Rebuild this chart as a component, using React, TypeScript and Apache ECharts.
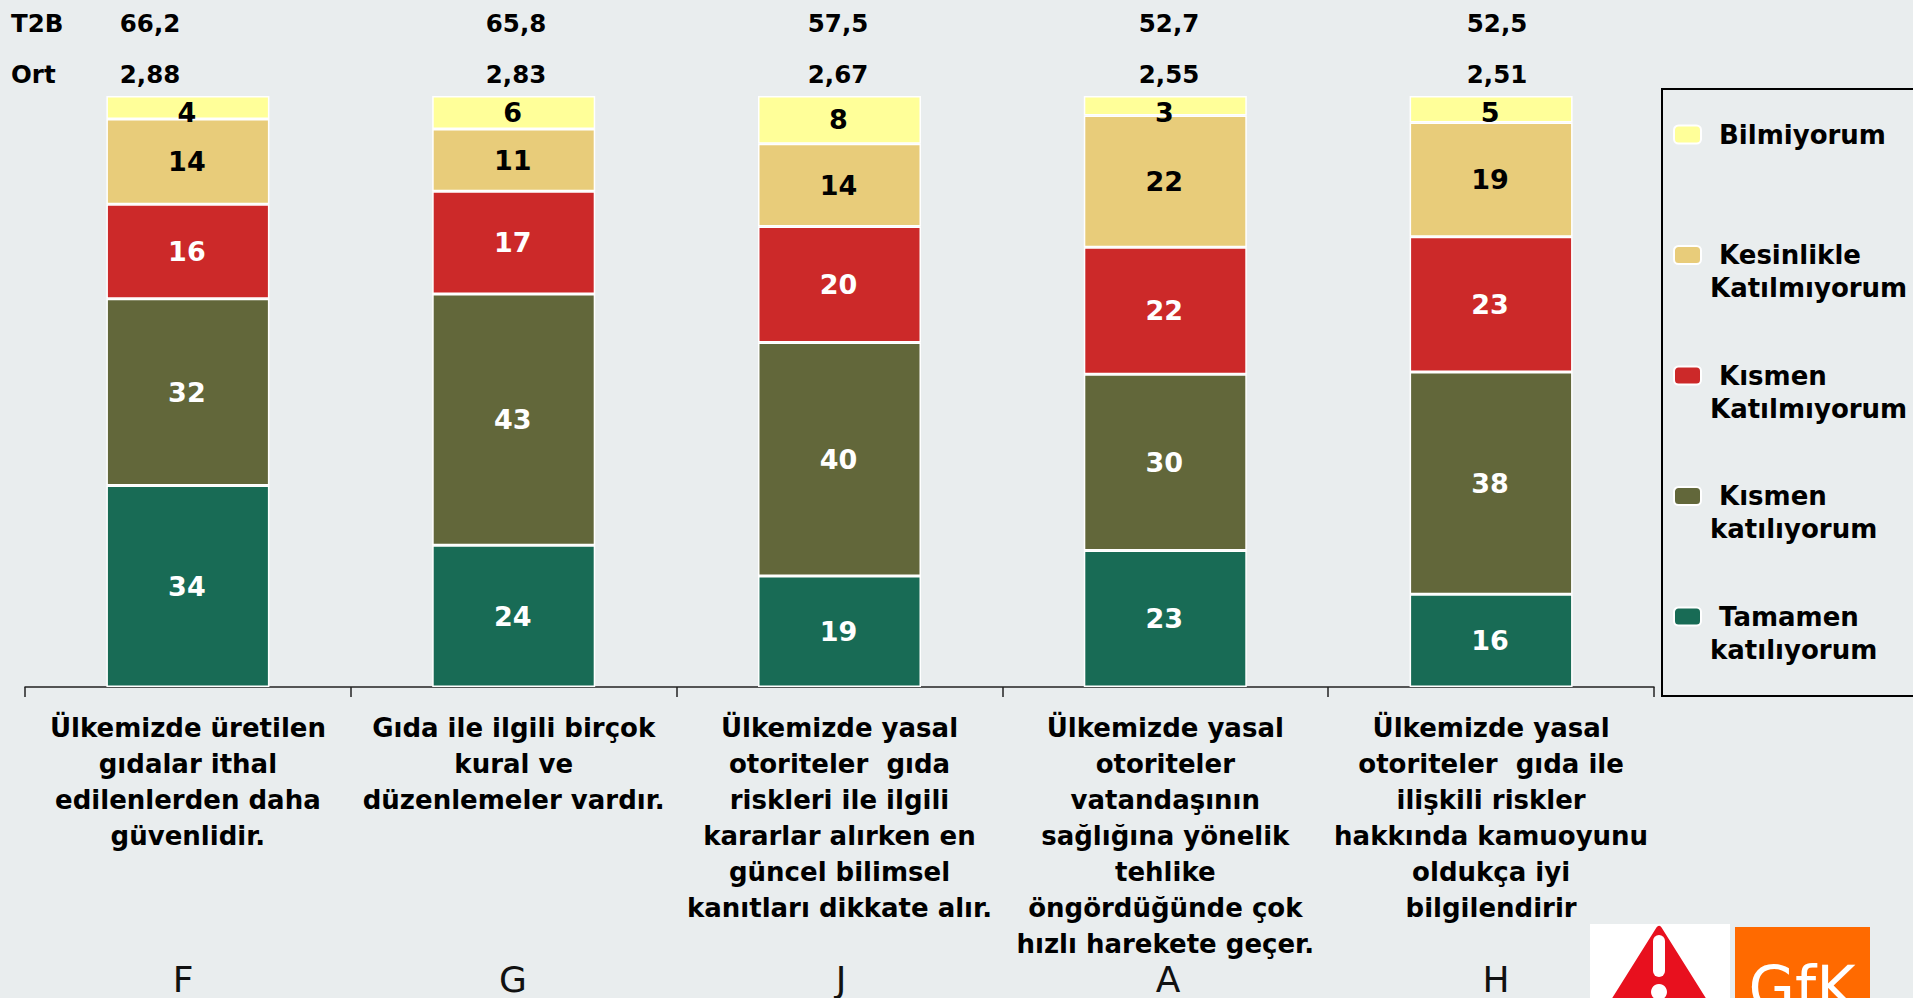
import React, { useEffect, useRef } from "react";
import * as echarts from "echarts";

const categories = [
  "Ülkemizde üretilen\ngıdalar ithal\nedilenlerden daha\ngüvenlidir.",
  "Gıda ile ilgili birçok\nkural ve\ndüzenlemeler vardır.",
  "Ülkemizde yasal\notoriteler  gıda\nriskleri ile ilgili\nkararlar alırken en\ngüncel bilimsel\nkanıtları dikkate alır.",
  "Ülkemizde yasal\notoriteler\nvatandaşının\nsağlığına yönelik\ntehlike\nöngördüğünde çok\nhızlı harekete geçer.",
  "Ülkemizde yasal\notoriteler  gıda ile\nilişkili riskler\nhakkında kamuoyunu\noldukça iyi\nbilgilendirir",
];
const letters = ["F", "G", "J", "A", "H"];
const t2b = ["66,2", "65,8", "57,5", "52,7", "52,5"];
const ort = ["2,88", "2,83", "2,67", "2,55", "2,51"];

const tamamen = [34.1, 24.0, 18.8, 23.1, 15.7];
const kismenKat = [31.6, 42.5, 39.5, 29.8, 37.6];
const kismenKatilmiyorum = [16.0, 17.4, 19.6, 21.5, 22.9];
const kesinlikle = [14.4, 10.5, 14.0, 22.3, 19.3];
const bilmiyorum = [3.9, 5.6, 8.1, 3.3, 4.5];

const seriesNames = ["Tamamen katılıyorum", "Kısmen katılıyorum", "Kısmen Katılmıyorum", "Kesinlikle Katılmıyorum", "Bilmiyorum"];
const legendOrder = ["Bilmiyorum", "Kesinlikle Katılmıyorum", "Kısmen Katılmıyorum", "Kısmen katılıyorum", "Tamamen katılıyorum"];
const legendText: Record<string, string> = {
  "Bilmiyorum": "\u00a0\n\u00a0Bilmiyorum\n\u00a0",
  "Kesinlikle Katılmıyorum": "\u00a0\n\u00a0Kesinlikle\nKatılmıyorum",
  "Kısmen Katılmıyorum": "\u00a0\n\u00a0Kısmen\nKatılmıyorum",
  "Kısmen katılıyorum": "\u00a0\n\u00a0Kısmen\nkatılıyorum",
  "Tamamen katılıyorum": "\u00a0\n\u00a0Tamamen\nkatılıyorum",
};

const FONT = "'DejaVu Sans', sans-serif";
const INK = "#000000";
const T2B_X = [150, 516, 838, 1169, 1497];
const LETTER_X = [183, 513, 841, 1168, 1496];
const YELLOW_LABEL_OFFSET = [5, 0, 0, 7, 3];

export default function App() {
  const ref = useRef<HTMLDivElement>(null);

  useEffect(() => {
    document.body.style.margin = "0";
    document.body.style.overflow = "hidden";
    const chart = echarts.init(ref.current!, null, { renderer: "svg" });

    const makeSeries = (name: string, data: number[], color: string, labelColor: string) => ({
      name,
      type: "bar" as const,
      stack: "total",
      barWidth: 163,
      data: data.map((value, i) => ({
        value,
        label: name === "Bilmiyorum" ? { offset: [-1, YELLOW_LABEL_OFFSET[i]] } : { offset: [-1, 0] },
      })),
      itemStyle: { color, borderColor: "#ffffff", borderWidth: 1.5 },
      label: {
        show: true,
        position: "inside" as const,
        color: labelColor,
        fontFamily: FONT,
        fontWeight: "bold" as const,
        fontSize: 27,
        formatter: (p: any) => String(Math.round(p.value)),
      },
    });

    const topText = (text: string, x: number, y: number, align = "center") => ({
      type: "text" as const,
      x,
      y,
      style: { text, fill: INK, font: `bold 24.5px ${FONT}`, align, verticalAlign: "middle" },
    });

    chart.setOption({
      animation: false,
      backgroundColor: "#E9EDEE",
      grid: { left: 25, right: 259, top: 96, bottom: 311 },
      xAxis: {
        type: "category",
        data: categories,
        axisLine: { lineStyle: { color: "#222222", width: 1.5 } },
        axisTick: { show: true, length: 10, lineStyle: { color: "#222222", width: 1.5 } },
        axisLabel: {
          interval: 0,
          margin: 23,
          color: INK,
          fontFamily: FONT,
          fontWeight: "bold",
          fontSize: 26,
          lineHeight: 36,
          verticalAlign: "top",
        },
      },
      yAxis: { type: "value", min: 0, max: 100, show: false },
      legend: {
        data: legendOrder,
        orient: "vertical",
        left: 1673,
        top: 85,
        padding: 0,
        itemWidth: 27,
        itemHeight: 18,
        itemGap: 21.5,
        selectedMode: false,
        formatter: (name: string) => legendText[name],
        textStyle: {
          color: INK,
          fontFamily: FONT,
          fontWeight: "bold",
          fontSize: 26,
          lineHeight: 33,
          padding: [0, 0, 0, 4],
        },
      },
      graphic: [
        {
          type: "rect",
          z: -1,
          shape: { x: 1662, y: 89, width: 260, height: 607 },
          style: { fill: "transparent", stroke: "#000000", lineWidth: 2 },
        },
        topText("T2B", 11, 23, "left"),
        topText("Ort", 11, 74, "left"),
        ...t2b.map((s, i) => topText(s, T2B_X[i], 23)),
        ...ort.map((s, i) => topText(s, T2B_X[i], 74)),
        ...letters.map((s, i) => ({
          type: "text" as const,
          x: LETTER_X[i],
          y: 979,
          style: { text: s, fill: "#111111", font: `36px 'DejaVu Sans', sans-serif`, align: "center", verticalAlign: "middle" },
        })),
        { type: "rect", shape: { x: 1590, y: 924, width: 140, height: 74 }, style: { fill: "#ffffff" } },
        {
          type: "polygon",
          shape: { points: [[1659, 929], [1602, 1020], [1716, 1020]] },
          style: { fill: "#E8101E", stroke: "#E8101E", lineWidth: 6, lineJoin: "round" },
        },
        { type: "rect", shape: { x: 1653, y: 935, width: 12, height: 42, r: 6 }, style: { fill: "#ffffff" } },
        { type: "circle", shape: { cx: 1659, cy: 992, r: 8 }, style: { fill: "#ffffff" } },
        { type: "rect", shape: { x: 1735, y: 927, width: 135, height: 71 }, style: { fill: "#FF6A00" } },
        {
          type: "text",
          x: 1802,
          y: 958,
          style: { text: "GfK", fill: "#ffffff", font: `60px 'DejaVu Sans', sans-serif`, align: "center", verticalAlign: "top" },
        },
      ],
      series: [
        makeSeries(seriesNames[0], tamamen, "#186B55", "#ffffff"),
        makeSeries(seriesNames[1], kismenKat, "#62673A", "#ffffff"),
        makeSeries(seriesNames[2], kismenKatilmiyorum, "#CC2929", "#ffffff"),
        makeSeries(seriesNames[3], kesinlikle, "#E8CC7A", "#000000"),
        makeSeries(seriesNames[4], bilmiyorum, "#FFFF99", "#000000"),
      ],
    });

    return () => chart.dispose();
  }, []);

  return <div ref={ref} style={{ position: "absolute", left: 0, top: 0, width: 1913, height: 998 }} />;
}
